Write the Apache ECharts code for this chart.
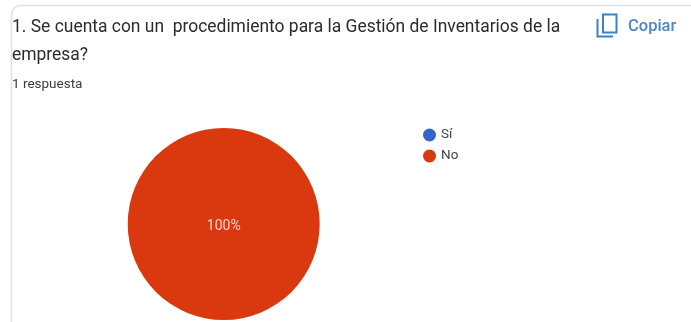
<!DOCTYPE html>
<html>
<head>
<meta charset="utf-8">
<style>
  html, body { margin: 0; padding: 0; background: #fff; }
  #chart { width: 691px; height: 322px; }
</style>
<script src="https://cdn.jsdelivr.net/npm/echarts@6/dist/echarts.min.js"></script>
</head>
<body>
<div id="chart"></div>
<script>
  const categories = ['Sí', 'No'];
  const values = [0, 1];
  const colors = ['#3366cc', '#da390f'];
  const questionLines = [
    '1. Se cuenta con un  procedimiento para la Gestión de Inventarios de la',
    'empresa?'
  ];
  const responseCount = '1 respuesta';
  const copyLabel = 'Copiar';

  const chart = echarts.init(document.getElementById('chart'), null, { renderer: 'canvas' });
  const font = 'Roboto, sans-serif';
  const cardStroke = { fill: null, stroke: '#e2e2e2', lineWidth: 1.6 };
  const iconStroke = { fill: null, stroke: '#3f7fc9', lineWidth: 2 };

  chart.setOption({
    animation: false,
    backgroundColor: '#ffffff',
    legend: {
      orient: 'vertical',
      left: 418,
      top: 123,
      itemWidth: 13,
      itemHeight: 13,
      itemGap: 7,
      icon: 'circle',
      selectedMode: false,
      textStyle: { fontFamily: font, fontSize: 13.5, color: '#444444', padding: [0, 0, 0, 0] },
      data: categories
    },
    series: [{
      type: 'pie',
      center: [223.7, 224],
      radius: [0, 96],
      startAngle: 90,
      silent: true,
      color: colors,
      labelLine: { show: false },
      data: categories.map((name, i) => ({
        name,
        value: values[i],
        label: {
          show: values[i] > 0,
          position: 'center',
          offset: [0, 2],
          formatter: '{d}%',
          fontFamily: font,
          fontSize: 14,
          color: '#f3d6cc'
        }
      }))
    }],
    graphic: [
      // Card outline: left edge, rounded corner, top edge
      { type: 'polyline', silent: true, shape: { points: [[11.5, 322], [11.5, 16]] }, style: cardStroke },
      { type: 'bezierCurve', silent: true, shape: { x1: 11.5, y1: 16, cpx1: 11.5, cpy1: 5.5, x2: 22, y2: 5.5 }, style: cardStroke },
      { type: 'polyline', silent: true, shape: { points: [[22, 5.5], [691, 5.5]] }, style: cardStroke },
      {
        type: 'text', left: 12, top: 19,
        style: { text: questionLines[0], fontFamily: font, fontSize: 17.45, fill: '#2b2b2b' }
      },
      {
        type: 'text', left: 12, top: 47,
        style: { text: questionLines[1], fontFamily: font, fontSize: 17.45, fill: '#2b2b2b' }
      },
      {
        type: 'text', left: 12, top: 78,
        style: { text: responseCount, fontFamily: font, fontSize: 13.5, fill: '#3c3c3c' }
      },
      // Copy icon: front sheet and the bracket behind it
      { type: 'rect', silent: true, shape: { x: 603, y: 14.5, width: 13.5, height: 18 }, style: iconStroke },
      { type: 'polyline', silent: true, shape: { points: [[597.5, 19], [597.5, 36.5], [613, 36.5]] }, style: iconStroke },
      {
        type: 'text', left: 628, top: 18,
        style: { text: copyLabel, fontFamily: font, fontSize: 16.5, fontWeight: 500, fill: '#4a86c8' }
      }
    ]
  });
</script>
</body>
</html>
